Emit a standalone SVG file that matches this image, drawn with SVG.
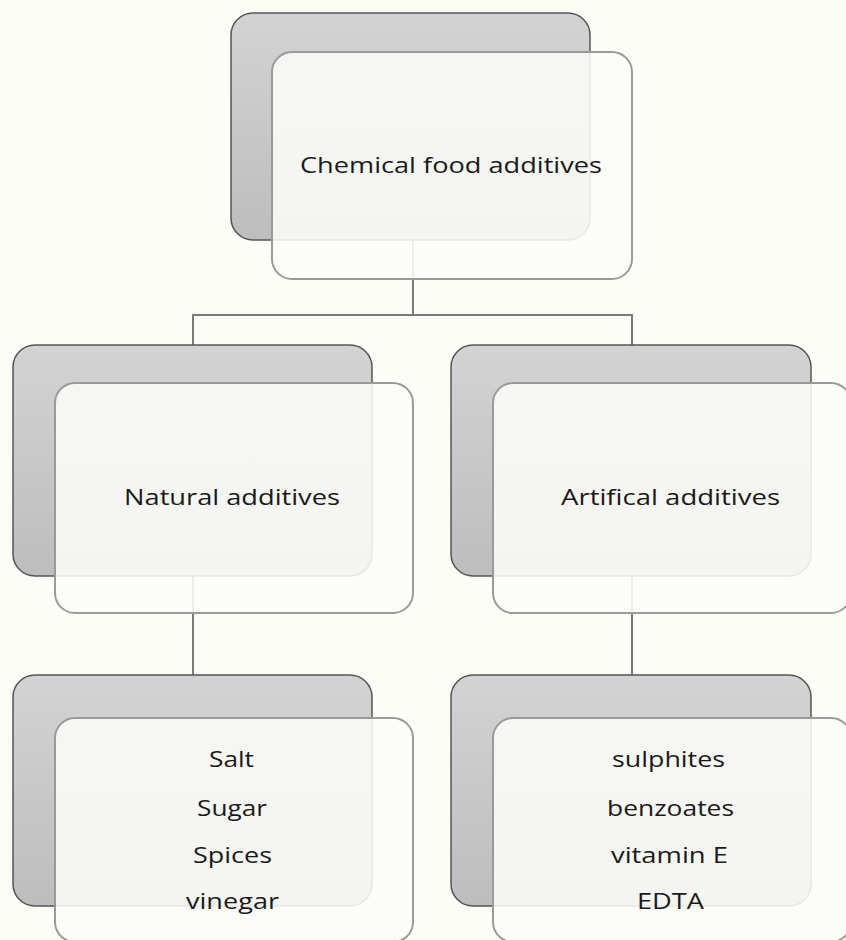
<svg xmlns="http://www.w3.org/2000/svg" width="846" height="940" viewBox="0 0 846 940">
<defs>
<linearGradient id="backGrad" x1="0" y1="0" x2="0" y2="1">
<stop offset="0" stop-color="#d3d3d3"/>
<stop offset="1" stop-color="#bdbdbd"/>
</linearGradient>
<style>
.back{fill:url(#backGrad);stroke:#555;stroke-width:1.5}
.front{fill:#fcfcf8;fill-opacity:0.88;stroke:#9a9a9a;stroke-width:2}
.conn{fill:none;stroke:#7a7a7a;stroke-width:2}
.lbl{font-family:"Open Sans","Liberation Sans",Arial,sans-serif;font-size:21px;fill:#1a1a1a}
</style>
</defs>
<rect x="0" y="0" width="846" height="940" fill="#fdfdf8"/>
<g id="connectors">
<path class="conn" d="M413,240 V315 M193,315 H632 M193,314 V346 M632,314 V346 M193,576 V676 M632,576 V676"/>
</g>
<g id="node-root">
<rect class="back" x="231" y="13" width="359" height="227" rx="22"/>
<rect class="front" x="272" y="52" width="360" height="227" rx="20"/>
<text class="lbl" x="300" y="173" textLength="302" lengthAdjust="spacingAndGlyphs">Chemical food additives</text>
</g>
<g id="node-natural">
<rect class="back" x="13" y="345" width="359" height="231" rx="22"/>
<rect class="front" x="55" y="383" width="358" height="230" rx="20"/>
<text class="lbl" x="124" y="505" textLength="216" lengthAdjust="spacingAndGlyphs">Natural additives</text>
</g>
<g id="node-artificial">
<rect class="back" x="451" y="345" width="360" height="231" rx="22"/>
<rect class="front" x="493" y="383" width="358" height="230" rx="20"/>
<text class="lbl" x="561" y="505" textLength="219" lengthAdjust="spacingAndGlyphs">Artifical additives</text>
</g>
<g id="node-natural-list">
<rect class="back" x="13" y="675" width="359" height="231" rx="22"/>
<rect class="front" x="55" y="718" width="358" height="224" rx="20"/>
<text class="lbl" x="209" y="767" textLength="45" lengthAdjust="spacingAndGlyphs">Salt</text>
<text class="lbl" x="197" y="816" textLength="70" lengthAdjust="spacingAndGlyphs">Sugar</text>
<text class="lbl" x="193" y="863" textLength="79" lengthAdjust="spacingAndGlyphs">Spices</text>
<text class="lbl" x="186" y="909" textLength="93" lengthAdjust="spacingAndGlyphs">vinegar</text>
</g>
<g id="node-artificial-list">
<rect class="back" x="451" y="675" width="360" height="231" rx="22"/>
<rect class="front" x="493" y="718" width="358" height="224" rx="20"/>
<text class="lbl" x="612" y="767" textLength="113" lengthAdjust="spacingAndGlyphs">sulphites</text>
<text class="lbl" x="607" y="816" textLength="127" lengthAdjust="spacingAndGlyphs">benzoates</text>
<text class="lbl" x="611" y="863" textLength="117" lengthAdjust="spacingAndGlyphs">vitamin E</text>
<text class="lbl" x="637" y="909" textLength="67" lengthAdjust="spacingAndGlyphs">EDTA</text>
</g>
</svg>
